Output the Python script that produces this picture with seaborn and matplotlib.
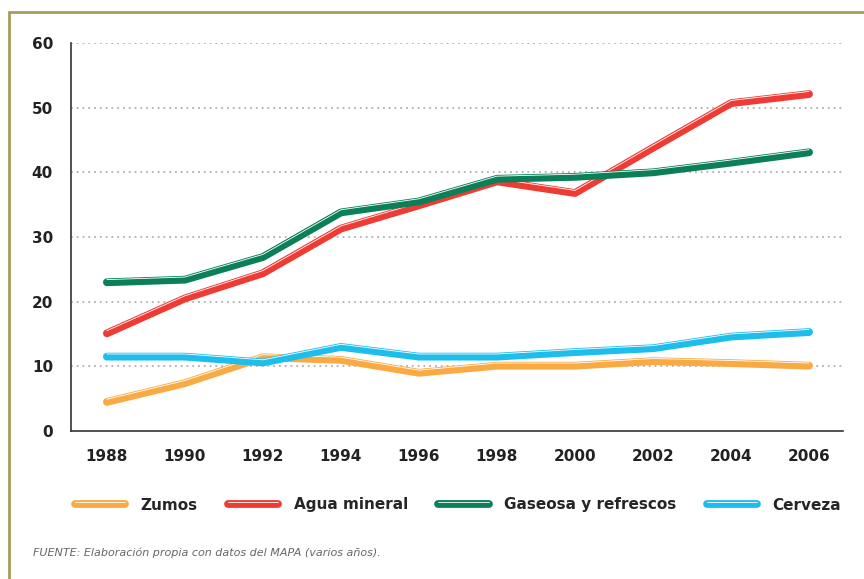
import seaborn as sns
import matplotlib.pyplot as plt
import matplotlib.patheffects as pe
from matplotlib.lines import Line2D
import pandas as pd

years = [1988, 1990, 1992, 1994, 1996, 1998, 2000, 2002, 2004, 2006]
zumos = [4.5, 7.4, 11.4, 11.0, 9.0, 10.1, 10.1, 10.8, 10.5, 10.1]
agua_mineral = [15.1, 20.5, 24.4, 31.3, 34.9, 38.6, 36.8, 43.8, 50.7, 52.1]
gaseosa = [23.0, 23.4, 26.9, 33.8, 35.5, 39.0, 39.3, 40.0, 41.5, 43.1]
cerveza = [11.5, 11.5, 10.6, 13.0, 11.5, 11.5, 12.2, 12.8, 14.6, 15.3]

series = ["Zumos", "Agua mineral", "Gaseosa y refrescos", "Cerveza"]
colors = ["#f9aa43", "#ee3b34", "#0b7f58", "#1dbdec"]

df = pd.DataFrame({"year": years, "Zumos": zumos, "Agua mineral": agua_mineral,
                   "Gaseosa y refrescos": gaseosa, "Cerveza": cerveza})
long = df.melt(id_vars="year", var_name="serie", value_name="valor")

sns.set_style("white")
plt.rcParams["font.family"] = ["DejaVu Sans"]

fig = plt.figure(figsize=(8.64, 5.79), dpi=100)
ax = fig.add_axes([71 / 864, 1 - 431 / 579, (843 - 71) / 864, (431 - 43) / 579])

LW = 5.6


def line_fx():
    # brillo blanco fino cerca del borde superior de la linea
    return [pe.Normal(),
            pe.Stroke(offset=(0, 1.9), linewidth=0.6, foreground="white")]


for name, c in zip(series, colors):
    sns.lineplot(data=long[long["serie"] == name], x="year", y="valor", ax=ax,
                 color=c, linewidth=LW, solid_capstyle="round",
                 solid_joinstyle="round", legend=False)
    ax.lines[-1].set_path_effects(line_fx())

ax.set_xlim(1987.08, 2006.87)
ax.set_ylim(0, 60)
ax.set_xticks(years)
ax.set_yticks(range(0, 61, 10))
ax.set_xlabel("")
ax.set_ylabel("")
ax.tick_params(axis="both", length=0, labelsize=11, labelcolor="#222222")
ax.tick_params(axis="x", pad=13)
ax.tick_params(axis="y", pad=13)
for lab in ax.get_xticklabels() + ax.get_yticklabels():
    lab.set_fontweight("bold")

for v in range(10, 61, 10):
    ax.axhline(v, color="#b0b0b0", linestyle=(0, (1.0, 2.2)), linewidth=1.3, zorder=0)

for s in ["top", "right"]:
    ax.spines[s].set_visible(False)
for s in ["left", "bottom"]:
    ax.spines[s].set_color("#333333")
    ax.spines[s].set_linewidth(1.2)

handles = []
for c in colors:
    h = Line2D([0], [0], color=c, linewidth=LW, solid_capstyle="round")
    h.set_path_effects(line_fx())
    handles.append(h)
fig.legend(handles, series, loc="center", bbox_to_anchor=(0.53, 1 - 505 / 579),
           ncol=4, frameon=False, handlelength=3.3, columnspacing=2.0,
           handletextpad=1.0, prop={"weight": "bold", "size": 11})

fig.text(33 / 864, 1 - 553 / 579,
         "FUENTE: Elaboración propia con datos del MAPA (varios años).",
         fontsize=8.0, style="italic", color="#666666", va="center")

# marco
bc = "#a89c5c"
fig.add_artist(Line2D([9 / 864, 1], [1 - 12 / 579] * 2, color=bc, linewidth=2))
fig.add_artist(Line2D([9 / 864] * 2, [0, 1 - 12 / 579], color=bc, linewidth=2))

fig.savefig("out.png", dpi=100)
